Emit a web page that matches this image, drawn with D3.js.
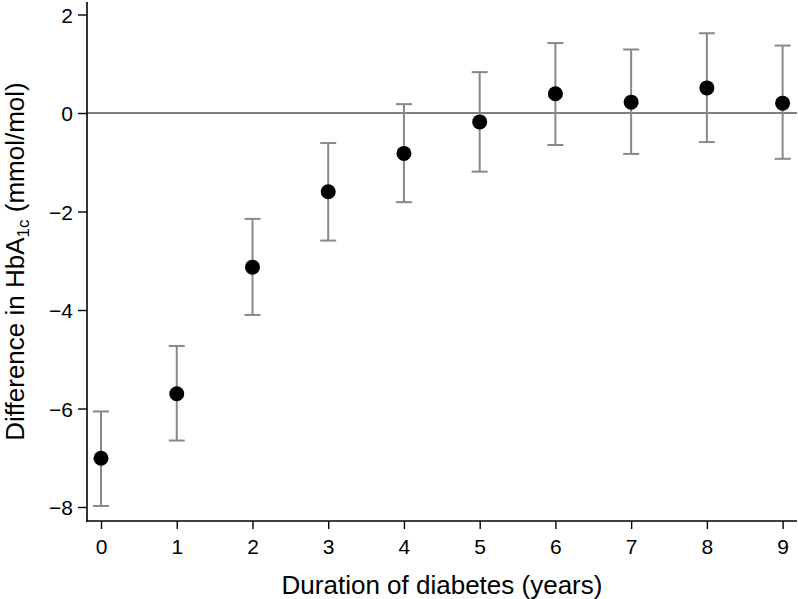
<!DOCTYPE html>
<html><head><meta charset="utf-8">
<script src="https://cdn.jsdelivr.net/npm/d3@7"></script>
<style>
body{margin:0;background:#fff;}
text{font-family:"Liberation Sans",Arial,Helvetica,sans-serif;fill:#000;}
</style></head>
<body><svg id="c" width="798" height="599"></svg>
<script>
const years = [0,1,2,3,4,5,6,7,8,9];
const estimate = [-7.01,-5.70,-3.13,-1.60,-0.82,-0.18,0.39,0.22,0.51,0.20];
const lower = [-7.98,-6.65,-4.10,-2.59,-1.81,-1.19,-0.65,-0.83,-0.59,-0.93];
const upper = [-6.06,-4.73,-2.15,-0.61,0.18,0.83,1.42,1.29,1.62,1.37];
const yTicks = [2,0,-2,-4,-6,-8];
const xTicks = [0,1,2,3,4,5,6,7,8,9];

const svg = d3.select("#c");
const L=87,R=797,T=2,B=521;
const x = d3.scaleLinear().domain([-0.185,9.19]).range([L,R]);
const y = d3.scaleLinear().domain([-8.284,2.254]).range([B,T]);
const fmt = d=> d<0 ? "\u2212"+Math.abs(d) : String(d);

// zero reference line
svg.append("line").attr("x1",L).attr("x2",R).attr("y1",y(0)).attr("y2",y(0))
  .attr("stroke","#808080").attr("stroke-width",2);

// axes
const ya = svg.append("g").attr("transform",`translate(${L},0)`)
  .call(d3.axisLeft(y).tickValues(yTicks).tickFormat(fmt).tickSize(9).tickSizeOuter(0));
const xa = svg.append("g").attr("transform",`translate(0,${B})`)
  .call(d3.axisBottom(x).tickValues(xTicks).tickSize(8).tickSizeOuter(0));
[ya,xa].forEach(a=>{
  a.select(".domain").attr("stroke","#000").attr("stroke-width",1.6);
  a.selectAll(".tick line").attr("stroke","#000").attr("stroke-width",1.4);
  a.selectAll(".tick text").attr("font-size",21).attr("font-family","Liberation Sans, Arial, sans-serif").attr("fill","#000");
});
ya.select(".domain").attr("d",`M0,${T}V${B+0.8}`);
xa.select(".domain").attr("d",`M${L-0.8},0H${R}`);
ya.selectAll(".tick text").attr("x",-14).attr("dy","0.36em");
xa.selectAll(".tick text").attr("y",18).attr("dy","0.71em");

// error bars
const cap=8;
const g = svg.append("g");
years.forEach((d,i)=>{
  g.append("line").attr("x1",x(d)).attr("x2",x(d)).attr("y1",y(lower[i])).attr("y2",y(upper[i]))
    .attr("stroke","#888").attr("stroke-width",2);
  [lower[i],upper[i]].forEach(v=>{
    g.append("line").attr("x1",x(d)-cap).attr("x2",x(d)+cap).attr("y1",y(v)).attr("y2",y(v))
      .attr("stroke","#888").attr("stroke-width",2);
  });
});
svg.append("g").selectAll("circle").data(years).join("circle")
  .attr("cx",d=>x(d)).attr("cy",(d,i)=>y(estimate[i])).attr("r",7.5).attr("fill","#000");

// titles
svg.append("text").attr("x",(L+R)/2).attr("y",594).attr("text-anchor","middle")
  .attr("font-size",26).text("Duration of diabetes (years)");
const yt = svg.append("text").attr("transform",`translate(24,${(T+B)/2}) rotate(-90)`)
  .attr("text-anchor","middle").attr("font-size",26);
yt.append("tspan").text("Difference in HbA");
yt.append("tspan").attr("font-size",17).attr("dy",5).text("1c");
yt.append("tspan").attr("dy",-5).text(" (mmol/mol)");
</script></body></html>
